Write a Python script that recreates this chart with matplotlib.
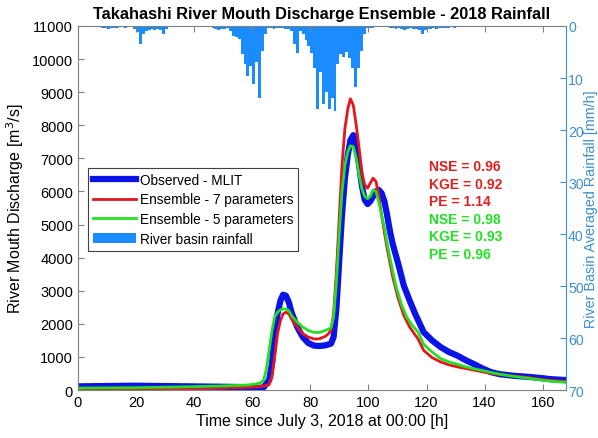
import numpy as np
import matplotlib.pyplot as plt
from matplotlib.patches import Patch

plt.rcParams['font.family'] = ['Liberation Sans', 'DejaVu Sans']

# Observed discharge (MLIT)
t_obs = [0, 9.7, 19.4, 29, 38.7, 48.4, 56.1, 60, 61.9, 63.9, 65.8, 66.8, 67.7, 68.7, 69.7, 70.6,
         71.6, 72.6, 73.5, 75.5, 77.4, 79.3, 81.3, 83.2, 85.1, 87.1, 88, 89, 90, 90.9, 91.9, 92.9,
         93.8, 94.8, 95.8, 96.8, 97.7, 98.7, 99.7, 100.6, 101.6, 102.6, 103.5, 104.5, 105.5, 106.4,
         107.4, 108.4, 110.3, 112.2, 114.2, 116.1, 119, 121.9, 124.8, 127.7, 130.6, 133.5, 136.4,
         139.3, 142.2, 145.1, 150, 154.8, 159.6, 162.5, 168]
q_obs = [110, 120, 130, 120, 110, 100, 90, 70, 60, 80, 300, 800, 1600, 2300, 2700, 2880, 2850, 2650,
         2350, 1900, 1600, 1420, 1340, 1330, 1350, 1400, 1600, 2500, 4000, 5300, 6400, 7100, 7550,
         7700, 7400, 6800, 6200, 5750, 5620, 5700, 5850, 6000, 6050, 5950, 5700, 5300, 4800, 4400,
         3800, 3150, 2700, 2300, 1750, 1500, 1300, 1150, 1040, 900, 780, 650, 540, 480, 430, 400,
         360, 330, 300]

# Ensemble - 7 parameters
t_e7 = [0, 19.4, 38.7, 48.4, 58.1, 61.9, 63.9, 65.8, 66.8, 67.7, 68.7, 69.7, 70.6, 71.6, 72.6, 73.5,
        75.5, 77.4, 79.3, 81.3, 83.2, 85.1, 86.1, 87.1, 88, 89, 90, 90.9, 91.9, 92.9, 93.8, 94.8,
        95.8, 96.8, 97.7, 98.7, 99.7, 100.6, 101.6, 102.6, 103.5, 104.5, 105.5, 106.4, 108.4, 110.3,
        112.2, 114.2, 117.1, 119, 121.9, 124.8, 127.7, 130.6, 133.5, 136.4, 139.3, 142.2, 145.1, 150,
        154.8, 159.6, 162.5, 168]
q_e7 = [40, 40, 50, 60, 80, 100, 120, 160, 400, 1000, 1700, 2100, 2300, 2350, 2300, 2150, 1900,
        1700, 1600, 1540, 1550, 1620, 1690, 1800, 2300, 3600, 5300, 6800, 7900, 8500, 8800, 8600,
        8000, 7300, 6600, 6200, 6100, 6250, 6400, 6300, 5900, 5300, 4760, 4300, 3400, 2750, 2250,
        1900, 1540, 1200, 980, 850, 760, 700, 650, 600, 550, 500, 470, 420, 380, 320, 290, 260]

# Ensemble - 5 parameters
t_e5 = [0, 19.4, 38.7, 48.4, 58.1, 61, 62.9, 63.9, 64.8, 65.8, 66.8, 67.7, 68.7, 69.7, 70.6, 71.6,
        72.6, 73.5, 75.5, 77.4, 79.3, 81.3, 83.2, 85.1, 86.1, 87.1, 88, 89, 90, 90.9, 91.9, 92.9,
        93.8, 94.8, 95.8, 96.8, 97.7, 98.7, 99.7, 100.6, 101.6, 102.6, 103.5, 104.5, 105.5, 106.4,
        107.4, 109.3, 111.3, 113.2, 115.1, 117.1, 119, 121.9, 124.8, 127.7, 130.6, 133.5, 136.4,
        139.3, 142.2, 145.1, 150, 154.8, 159.6, 162.5, 168]
q_e5 = [60, 70, 100, 120, 150, 180, 220, 300, 600, 1200, 1800, 2200, 2350, 2420, 2450, 2450, 2400,
        2250, 2050, 1900, 1800, 1740, 1740, 1800, 1830, 1880, 2200, 3300, 4800, 6000, 6800, 7200,
        7380, 7350, 7000, 6500, 6100, 5850, 5780, 5850, 6050, 6000, 5700, 5300, 4900, 4450, 4000,
        3200, 2600, 2200, 1950, 1750, 1380, 1150, 950, 850, 780, 700, 640, 590, 530, 480, 410, 360,
        300, 270, 230]

# Hourly river basin averaged rainfall [mm/h], hours 0..167
rain = [0, 0, 0, 0, 0, 0, 0, 0, 0.4, 0.3, 0.5, 0.3, 0.4, 0.3, 0.2,
        0.2, 0.3, 0.1, 0.2, 0.5, 1.2, 3.5, 1.5, 1.0, 0.8, 0.6, 0.8, 0.6, 0.7, 1.5,
        0.5, 0.2, 0, 0, 0, 0, 0, 0, 0, 0, 0, 0, 0, 0, 0,
        0, 0.3, 0.5, 0.8, 0.6, 0.6, 0.3, 1.0, 2.0, 2.2, 2.5, 5.4, 7.3, 9.6, 7.7, 11.2, 7.0,
        13.8, 4.8, 1.6, 0.4, 0.3, 0.5, 0.3, 0.4, 0.3, 0.5,
        0.6, 1.0, 3.5, 5.1, 1.0, 1.6, 2.7, 3.8, 5.2, 8.0, 16.0, 8.8, 15.0, 12.7, 16.0, 13.8,
        16.3, 7.4, 5.4, 6.0, 5.0, 6.2, 8.0, 11.8, 8.0, 4.8, 1.6, 0.4, 0.4, 0.3, 0.2, 0.2,
        0.1, 0.1, 0.2, 0.3, 0.4, 0.5, 0.3, 0.6, 0.8, 0.5, 0.4, 0.6, 0.5, 0.7, 1.5, 0.8, 0.6,
        0.5, 0.4, 0.6, 0.3, 0.3, 0.4, 0.3, 0.2, 0.3, 0.2, 0.1, 0.1, 0.1]
rain = rain + [0] * (168 - len(rain))
hours = np.arange(len(rain))

rain_col = '#1a8cff'
axis_col = '#3d8fd1'
grey = '#808080'

fig = plt.figure(figsize=(5.98, 4.39), dpi=100)
ax = fig.add_axes([0.1304, 0.1093, 0.816, 0.8292])
ax2 = ax.twinx()

# rainfall on the right (reversed) axis
ax2.bar(hours, rain, width=1, align='edge', color=rain_col, edgecolor='none')
ax2.set_ylim(70, 0)
ax2.set_yticks(range(0, 71, 10))
ax2.set_ylabel('River Basin Averaged Rainfall [mm/h]', color=axis_col, fontsize=10.3, labelpad=0.5)
ax2.tick_params(axis='y', colors=axis_col, direction='in', labelsize=10.2, length=4, pad=1.5)
ax2.spines['right'].set_color(axis_col)
for s in ['left', 'top', 'bottom']:
    ax2.spines[s].set_visible(False)

# discharge lines on the left axis, drawn on top
ax.set_zorder(ax2.get_zorder() + 1)
ax.patch.set_visible(False)
l1, = ax.plot(t_obs, q_obs, color='#0a14e6', lw=4.5, label='Observed - MLIT')
l2, = ax.plot(t_e7, q_e7, color='#e8141c', lw=2, label='Ensemble - 7 parameters')
l3, = ax.plot(t_e5, q_e5, color='#22e022', lw=2, label='Ensemble - 5 parameters')

ax.set_xlim(0, 168)
ax.set_ylim(0, 11000)
ax.set_xticks(range(0, 161, 20))
ax.set_yticks(range(0, 11001, 1000))
ax.tick_params(direction='in', labelsize=10.5, length=4, color=grey, top=True)
for s in ['left', 'top', 'bottom']:
    ax.spines[s].set_color(grey)
ax.spines['right'].set_visible(False)
ax.set_xlabel('Time since July 3, 2018 at 00:00 [h]', fontsize=11.5, labelpad=3)
ax.set_ylabel('River Mouth Discharge [m$^3$/s]', fontsize=11.5)
ax.set_title('Takahashi River Mouth Discharge Ensemble - 2018 Rainfall',
             fontsize=11.8, fontweight='bold', pad=6)

rain_patch = Patch(facecolor=rain_col, edgecolor='none', label='River basin rainfall')
leg = ax.legend(handles=[l1, l2, l3, rain_patch], loc='upper left',
                bbox_to_anchor=(0.02, 0.61), fontsize=9.8, fancybox=False,
                framealpha=1, edgecolor='#404040', handlelength=3.2,
                borderpad=0.35, labelspacing=0.42, handletextpad=0.3, borderaxespad=0)
leg.get_frame().set_linewidth(0.8)

stats_red = ['NSE = 0.96', 'KGE = 0.92', 'PE = 1.14']
stats_green = ['NSE = 0.98', 'KGE = 0.93', 'PE = 0.96']
for i, s in enumerate(stats_red + stats_green):
    c = '#e02020' if i < 3 else '#22e022'
    ax.text(0.72, 0.615 - i * 0.048, s, transform=ax.transAxes, color=c,
            fontsize=10, fontweight='bold', va='center')

fig.savefig('out.png', dpi=100)
